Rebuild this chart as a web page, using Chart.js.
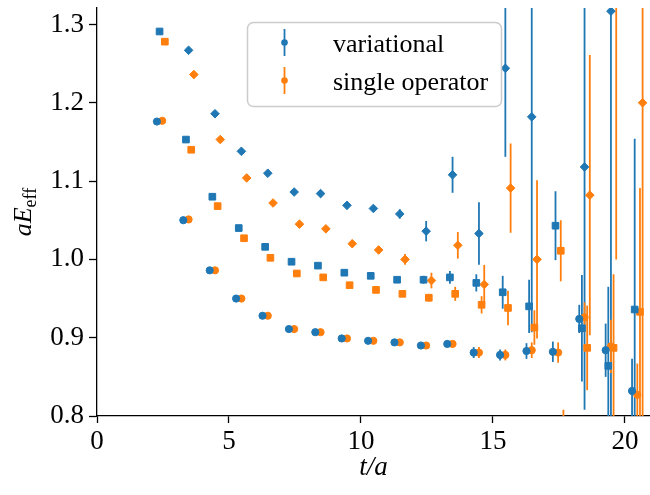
<!DOCTYPE html>
<html>
<head>
<meta charset="utf-8">
<script src="https://cdn.jsdelivr.net/npm/chart.js@4.4.1/dist/chart.umd.min.js"></script>
<style>
  html, body { margin: 0; padding: 0; background: #fff; }
  #wrap { width: 650px; height: 495px; }
</style>
</head>
<body>
<div id="wrap"><canvas id="effMassChart" width="650" height="495"></canvas></div>
<script>
// time slices
const tAll = [2, 3, 4, 5, 6, 7, 8, 9, 10, 11, 12, 13, 14, 15, 16, 17, 18, 19, 20];
const tDiam = [3, 4, 5, 6, 7, 8, 9, 10, 11, 12, 13, 14, 15, 16, 17, 18, 19, 20];

// variational (blue)
const circVar = [1.176, 1.050, 0.986, 0.950, 0.928, 0.911, 0.907, 0.899, 0.896, 0.894, 0.890, 0.892, 0.881, 0.878, 0.883, 0.882, 0.924, 0.884, 0.832];
const circVarErr = [0.001, 0.001, 0.001, 0.001, 0.001, 0.001, 0.001, 0.002, 0.002, 0.002, 0.003, 0.003, 0.007, 0.007, 0.010, 0.013, 0.018, 0.034, 0.041];
const sqVar = [1.291, 1.153, 1.080, 1.040, 1.016, 0.997, 0.992, 0.983, 0.979, 0.974, 0.974, 0.977, 0.970, 0.958, 0.940, 1.043, 0.912, 0.864, 0.936];
const sqVarErr = [0.001, 0.001, 0.001, 0.001, 0.002, 0.002, 0.002, 0.002, 0.003, 0.003, 0.005, 0.008, 0.011, 0.021, 0.034, 0.044, 0.068, 0.101, 0.218];
const dmVar = [1.267, 1.186, 1.138, 1.110, 1.086, 1.084, 1.069, 1.065, 1.058, 1.036, 1.108, 1.033, 1.244, 1.182, null, 1.118, 1.317, null];
const dmVarErr = [0.001, 0.001, 0.002, 0.002, 0.002, 0.003, 0.003, 0.004, 0.006, 0.013, 0.023, 0.040, 0.113, 0.275, null, 0.310, 0.600, null];

// single operator (orange)
const circSingle = [1.177, 1.051, 0.986, 0.950, 0.928, 0.911, 0.907, 0.899, 0.896, 0.894, 0.890, 0.892, 0.881, 0.878, 0.884, 0.881, 0.926, 0.889, 0.827];
const circSingleErr = [0.001, 0.001, 0.001, 0.001, 0.001, 0.001, 0.001, 0.002, 0.002, 0.002, 0.003, 0.003, 0.007, 0.007, 0.010, 0.013, 0.019, 0.034, 0.040];
const sqSingle = [1.278, 1.140, 1.068, 1.027, 1.002, 0.982, 0.977, 0.967, 0.961, 0.956, 0.951, 0.956, 0.942, 0.938, 0.913, 1.011, 0.887, 0.887, 0.933];
const sqSingleErr = [0.001, 0.001, 0.001, 0.002, 0.002, 0.002, 0.002, 0.003, 0.003, 0.004, 0.005, 0.009, 0.011, 0.022, 0.022, 0.039, 0.054, 0.094, 0.158];
const dmSingle = [1.236, 1.153, 1.104, 1.072, 1.045, 1.039, 1.020, 1.012, 1.000, 0.973, 1.018, 0.968, 1.091, 1.000, 0.750, 1.082, 1.400, 1.200];
const dmSingleErr = [0.001, 0.002, 0.002, 0.002, 0.003, 0.003, 0.004, 0.005, 0.007, 0.010, 0.017, 0.025, 0.057, 0.101, 0.058, 0.179, 0.400, 0.600];

const xTicks = [0, 5, 10, 15, 20];
const yTicks = [0.8, 0.9, 1.0, 1.1, 1.2, 1.3];
const legendLabels = ['variational', 'single operator'];

const BLUE = '#1f77b4';
const ORANGE = '#ff7f0e';
const SERIF = "'Liberation Serif', 'Times New Roman', serif";

// small horizontal shifts so the operators don't sit on top of each other
function series(ts, vals, errs, shift) {
    return ts.map((t, i) => ({ x: t + shift, y: vals[i], err: errs[i] }));
}

function ds(data, color, style, radius) {
    return {
        data: data,
        borderColor: color,
        backgroundColor: color,
        pointStyle: style,
        pointRadius: radius,
        pointBorderWidth: 1,
        showLine: false
    };
}

const datasets = [
    ds(series(tAll, circVar, circVarErr, 0.27), BLUE, 'circle', 3.6),
    ds(series(tAll, sqVar, sqVarErr, 0.37), BLUE, 'rect', 4.7),
    ds(series(tDiam, dmVar, dmVarErr, 0.47), BLUE, 'rectRot', 4.3),
    ds(series(tAll, circSingle, circSingleErr, 0.47), ORANGE, 'circle', 3.6),
    ds(series(tAll, sqSingle, sqSingleErr, 0.57), ORANGE, 'rect', 4.7),
    ds(series(tDiam, dmSingle, dmSingleErr, 0.67), ORANGE, 'rectRot', 4.3)
];

// vertical error bars, drawn under the markers
const errorBars = {
    id: 'errorBars',
    beforeDatasetsDraw(chart) {
        const { ctx, chartArea, scales: { y } } = chart;
        ctx.save();
        ctx.beginPath();
        ctx.rect(chartArea.left, chartArea.top, chartArea.right - chartArea.left, chartArea.bottom - chartArea.top);
        ctx.clip();
        ctx.lineWidth = 1.8;
        chart.data.datasets.forEach((set, i) => {
            const meta = chart.getDatasetMeta(i);
            ctx.strokeStyle = set.borderColor;
            meta.data.forEach((pt, j) => {
                const d = set.data[j];
                if (d.y == null || !d.err) return;
                const top = y.getPixelForValue(d.y + d.err);
                const bot = y.getPixelForValue(d.y - d.err);
                ctx.beginPath();
                ctx.moveTo(pt.x, top);
                ctx.lineTo(pt.x, bot);
                ctx.stroke();
            });
        });
        ctx.restore();
    }
};

// y title with roman subscript
const yTitle = {
    id: 'yTitle',
    afterDraw(chart) {
        const { ctx, chartArea } = chart;
        const cy = (chartArea.top + chartArea.bottom) / 2;
        ctx.save();
        ctx.translate(31, cy);
        ctx.rotate(-Math.PI / 2);
        ctx.fillStyle = '#000';
        ctx.textBaseline = 'alphabetic';
        ctx.font = 'italic 26px ' + SERIF;
        const wMain = ctx.measureText('aE').width;
        ctx.font = '18px ' + SERIF;
        const wSub = ctx.measureText('eff').width;
        const start = -(wMain + wSub) / 2;
        ctx.font = 'italic 26px ' + SERIF;
        ctx.fillText('aE', start, 0);
        ctx.font = '18px ' + SERIF;
        ctx.fillText('eff', start + wMain, 5);
        ctx.restore();
    }
};

// legend box with errorbar handles
const legendBox = {
    id: 'legendBox',
    afterDraw(chart) {
        const ctx = chart.ctx;
        const colors = [BLUE, ORANGE];
        ctx.save();
        ctx.beginPath();
        ctx.roundRect(247.5, 22.5, 254, 84, 6);
        ctx.fillStyle = 'rgba(255,255,255,0.8)';
        ctx.fill();
        ctx.strokeStyle = '#cccccc';
        ctx.lineWidth = 1.5;
        ctx.stroke();
        legendLabels.forEach((label, i) => {
            const cy = 42.5 + i * 38;
            ctx.strokeStyle = colors[i];
            ctx.fillStyle = colors[i];
            ctx.lineWidth = 1.8;
            ctx.beginPath();
            ctx.moveTo(284.5, cy - 13.5);
            ctx.lineTo(284.5, cy + 13.5);
            ctx.stroke();
            ctx.beginPath();
            ctx.arc(284.5, cy, 3.3, 0, Math.PI * 2);
            ctx.fill();
            ctx.fillStyle = '#000';
            ctx.font = '26px ' + SERIF;
            ctx.textBaseline = 'middle';
            ctx.fillText(label, 333, cy + 3);
        });
        ctx.restore();
    }
};

new Chart(document.getElementById('effMassChart'), {
    type: 'scatter',
    data: { datasets: datasets },
    options: {
        responsive: false,
        animation: false,
        devicePixelRatio: 1,
        layout: { autoPadding: false, padding: { top: 8, right: 0, left: 0, bottom: 0 } },
        plugins: {
            legend: { display: false },
            tooltip: { enabled: false }
        },
        scales: {
            x: {
                type: 'linear',
                min: 0,
                max: 20.95,
                afterBuildTicks: s => { s.ticks = xTicks.map(v => ({ value: v })); },
                afterFit: s => { s.height = 79; s.paddingLeft = 0; s.paddingRight = 0; },
                border: { color: '#000', width: 1.3 },
                grid: { drawOnChartArea: false, tickLength: 7, tickColor: '#000', tickWidth: 1.3 },
                ticks: { color: '#000', font: { family: SERIF, size: 27 }, padding: 3, maxRotation: 0, callback: v => String(v) },
                title: { display: true, text: 't/a', color: '#000', font: { family: SERIF, size: 27, style: 'italic' }, padding: { top: 0, bottom: 11 } }
            },
            y: {
                type: 'linear',
                min: 0.8,
                max: 1.321,
                afterBuildTicks: s => { s.ticks = yTicks.map(v => ({ value: v })); },
                afterFit: s => { s.width = 97; s.paddingTop = 0; s.paddingBottom = 0; },
                border: { color: '#000', width: 1.3 },
                grid: { drawOnChartArea: false, tickLength: 8, tickColor: '#000', tickWidth: 1.3 },
                ticks: { color: '#000', font: { family: SERIF, size: 27 }, padding: 5, callback: v => v.toFixed(1) }
            }
        }
    },
    plugins: [errorBars, yTitle, legendBox]
});
</script>
</body>
</html>
